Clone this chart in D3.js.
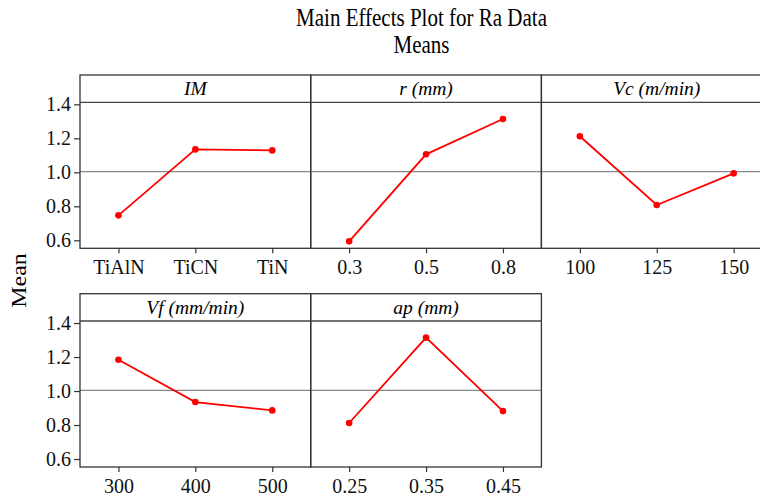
<!DOCTYPE html>
<html><head><meta charset="utf-8">
<script src="https://cdn.jsdelivr.net/npm/d3@7"></script>
</head>
<body style="margin:0"><svg id="chart" width="760" height="499"></svg>
<script>
const factors = ["IM", "r (mm)", "Vc (m/min)", "Vf (mm/min)", "ap (mm)"];
const levelsIM = ["TiAlN", "TiCN", "TiN"];
const levelsR = ["0.3", "0.5", "0.8"];
const levelsVc = ["100", "125", "150"];
const levelsVf = ["300", "400", "500"];
const levelsAp = ["0.25", "0.35", "0.45"];
const meansIM = [0.747, 1.135, 1.129];
const meansR = [0.594, 1.106, 1.314];
const meansVc = [1.212, 0.808, 0.994];
const meansVf = [1.184, 0.935, 0.886];
const meansAp = [0.812, 1.314, 0.882];
const yTicks = [0.6, 0.8, 1.0, 1.2, 1.4];
const grandMean = 1.004;

const levels = [levelsIM, levelsR, levelsVc, levelsVf, levelsAp];
const means = [meansIM, meansR, meansVc, meansVf, meansAp];
const FONT = "'Liberation Serif', 'Times New Roman', Tinos, cursive";

const svg = d3.select("#chart");
const left = 80, pw = 230.7, headerH = 27.3, plotH = 146;
const rowTops = [75, 293.7];

function txt(sel, size) { return sel.style("font-family", FONT).style("font-size", (size || 20) + "px"); }

txt(svg.append("text").attr("transform", "translate(421.5,26) scale(1,1.2)")
  .attr("text-anchor", "middle"), 21).text("Main Effects Plot for Ra Data");
txt(svg.append("text").attr("transform", "translate(421.5,53) scale(1,1.2)")
  .attr("text-anchor", "middle"), 21).text("Means");
txt(svg.append("text").attr("transform", "translate(26,280.5) rotate(-90) scale(1.2,1)")
  .attr("text-anchor", "middle"), 20).text("Mean");

const y0 = d3.scaleLinear().domain([0.553, 1.412]).range([plotH, 0]);

factors.forEach((f, i) => {
  const row = i < 3 ? 0 : 1;
  const col = i < 3 ? i : i - 3;
  const gx = left + col * pw;
  const gy = rowTops[row];
  const g = svg.append("g").attr("transform", `translate(${gx},${gy})`);
  const py = headerH;
  const x = d3.scalePoint().domain(levels[i]).range([0, pw]).padding(0.5);
  const y = y0.copy().range([py + plotH, py]);

  g.append("line").attr("x1", 0).attr("x2", pw)
    .attr("y1", y(grandMean)).attr("y2", y(grandMean))
    .attr("stroke", "#888").attr("stroke-width", 1.2);

  const pts = levels[i].map((l, k) => [x(l), y(means[i][k])]);
  g.append("path").attr("d", d3.line()(pts)).attr("fill", "none")
    .attr("stroke", "#ff0000").attr("stroke-width", 1.8);
  g.selectAll("circle.p").data(pts).join("circle").attr("class", "p")
    .attr("cx", d => d[0]).attr("cy", d => d[1]).attr("r", 3.3).attr("fill", "#ff0000");

  g.append("rect").attr("x", 0).attr("y", 0).attr("width", pw).attr("height", headerH + plotH)
    .attr("fill", "none").attr("stroke", "#333").attr("stroke-width", 1.3);
  g.append("line").attr("x1", 0).attr("x2", pw).attr("y1", headerH).attr("y2", headerH)
    .attr("stroke", "#444").attr("stroke-width", 1.3);
  txt(g.append("text").attr("x", pw / 2).attr("y", 20).attr("text-anchor", "middle"), 19.5)
    .style("font-style", "italic").text(f);

  const xa = g.append("g").attr("transform", `translate(0,${py + plotH})`)
    .call(d3.axisBottom(x).tickSize(5).tickPadding(4).tickSizeOuter(0));
  xa.select(".domain").remove();
  xa.selectAll("line").attr("stroke", "#333").attr("stroke-width", 1.2);
  txt(xa.selectAll("text")).attr("fill", "#111").attr("y", 12);

  if (col === 0) {
    const ya = g.append("g").call(d3.axisLeft(y).tickValues(yTicks)
      .tickFormat(d3.format(".1f")).tickSize(6).tickPadding(3).tickSizeOuter(0));
    ya.select(".domain").remove();
    ya.selectAll("line").attr("stroke", "#333").attr("stroke-width", 1.2);
    txt(ya.selectAll("text")).attr("fill", "#111");
  }
});
</script></body></html>
